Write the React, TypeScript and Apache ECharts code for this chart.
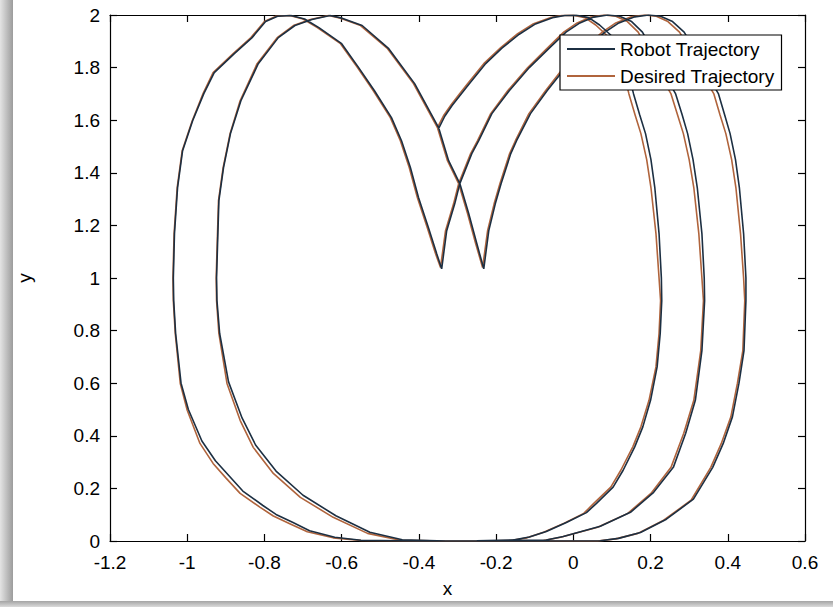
import React, { useEffect, useRef } from "react";
import * as echarts from "echarts";

// ---- Data (x, y pairs in path order) ----
const xTicks = { min: -1.2, max: 0.6, step: 0.2 };
const yTicks = { min: 0, max: 2, step: 0.2 };
const seriesNames = ["Robot Trajectory", "Desired Trajectory"];

const desiredLobe1: number[][] = [
  [-0.352, 1.572], [-0.335, 1.62], [-0.316, 1.66], [-0.295, 1.7], [-0.274, 1.739], [-0.232, 1.815], [-0.188, 1.876],
  [-0.144, 1.929], [-0.103, 1.967], [-0.06, 1.99], [-0.03, 1.998], [0.0, 1.999], [0.03, 1.99], [0.058, 1.962],
  [0.085, 1.925], [0.11, 1.85], [0.13, 1.78], [0.144, 1.7], [0.16, 1.62], [0.175, 1.549], [0.19, 1.45],
  [0.201, 1.344], [0.214, 1.169], [0.222, 1.0], [0.226, 0.914], [0.222, 0.789], [0.214, 0.662], [0.196, 0.535],
  [0.175, 0.434], [0.154, 0.358], [0.123, 0.269], [0.097, 0.205], [0.053, 0.143], [0.027, 0.105], [-0.025, 0.067],
  [-0.077, 0.033], [-0.12, 0.012], [-0.162, 0.002], [-0.25, 0], [-0.4, 0], [-0.55, 0.002], [-0.622, 0.012],
  [-0.689, 0.035], [-0.733, 0.065], [-0.777, 0.095], [-0.811, 0.128], [-0.863, 0.181], [-0.9, 0.24], [-0.933, 0.295],
  [-0.967, 0.371], [-1.0, 0.497], [-1.018, 0.599], [-1.031, 0.789], [-1.036, 0.914], [-1.037, 1.0], [-1.034, 1.169],
  [-1.026, 1.344], [-1.013, 1.484], [-0.987, 1.598], [-0.959, 1.701], [-0.933, 1.781], [-0.881, 1.853], [-0.835, 1.914],
  [-0.8, 1.975], [-0.77, 1.995], [-0.735, 1.998], [-0.7, 1.985], [-0.663, 1.952], [-0.603, 1.891], [-0.559, 1.8], [-0.518, 1.712],
  [-0.474, 1.61], [-0.448, 1.522], [-0.425, 1.42], [-0.404, 1.306], [-0.378, 1.19], [-0.357, 1.093], [-0.344, 1.04],
];
const desiredLobe2: number[][] = [
  [-0.331, 1.18], [-0.31, 1.283], [-0.297, 1.359], [-0.266, 1.473], [-0.248, 1.522], [-0.214, 1.625], [-0.17, 1.712],
  [-0.118, 1.8], [-0.066, 1.876], [-0.025, 1.935], [0.01, 1.97], [0.045, 1.992], [0.08, 2.0], [0.11, 1.995],
  [0.14, 1.975], [0.168, 1.935], [0.195, 1.862], [0.22, 1.785], [0.253, 1.7], [0.27, 1.62], [0.285, 1.549],
  [0.3, 1.45], [0.312, 1.344], [0.325, 1.169], [0.333, 1.0], [0.337, 0.914], [0.33, 0.724], [0.312, 0.535],
  [0.286, 0.41], [0.253, 0.28], [0.201, 0.181], [0.141, 0.105], [0.063, 0.052], [-0.033, 0.014], [-0.077, 0.002],
  [-0.2, 0], [-0.33, 0], [-0.448, 0.003], [-0.533, 0.029], [-0.622, 0.09], [-0.707, 0.166], [-0.777, 0.257],
  [-0.829, 0.356], [-0.863, 0.459], [-0.897, 0.599], [-0.918, 0.789], [-0.924, 0.914], [-0.925, 1.0], [-0.922, 1.15],
  [-0.919, 1.294], [-0.907, 1.42], [-0.889, 1.549], [-0.863, 1.674], [-0.819, 1.815], [-0.767, 1.914], [-0.725, 1.96],
  [-0.681, 1.983], [-0.634, 1.998], [-0.603, 1.988], [-0.551, 1.96], [-0.481, 1.872], [-0.414, 1.739], [-0.352, 1.572],
  [-0.326, 1.446], [-0.297, 1.359], [-0.274, 1.245], [-0.253, 1.131], [-0.235, 1.04],
];
const desiredLobe3: number[][] = [
  [-0.222, 1.18], [-0.205, 1.283], [-0.19, 1.359], [-0.165, 1.473], [-0.15, 1.522], [-0.115, 1.625], [-0.072, 1.712],
  [-0.025, 1.8], [0.03, 1.876], [0.075, 1.935], [0.11, 1.97], [0.15, 1.993], [0.185, 2.0], [0.215, 1.995],
  [0.245, 1.975], [0.275, 1.935], [0.305, 1.862], [0.33, 1.785], [0.364, 1.7], [0.38, 1.62], [0.395, 1.549],
  [0.41, 1.45], [0.421, 1.344], [0.433, 1.169], [0.441, 1.0], [0.444, 0.914], [0.439, 0.724], [0.425, 0.6],
  [0.408, 0.472], [0.383, 0.37], [0.356, 0.28], [0.305, 0.155], [0.234, 0.079], [0.167, 0.029], [0.11, 0.008],
  [0.063, 0.0], [-0.1, 0], [-0.3, 0],
];

const robotLobe1: number[][] = [
  [-0.35, 1.565], [-0.333, 1.615], [-0.314, 1.656], [-0.292, 1.697], [-0.271, 1.736], [-0.229, 1.812], [-0.185, 1.874],
  [-0.14, 1.927], [-0.098, 1.966], [-0.054, 1.99], [-0.022, 1.998], [0.008, 1.999], [0.04, 1.99], [0.068, 1.962],
  [0.096, 1.925], [0.122, 1.85], [0.142, 1.78], [0.156, 1.7], [0.172, 1.62], [0.187, 1.549], [0.201, 1.45],
  [0.211, 1.344], [0.222, 1.169], [0.228, 1.0], [0.229, 0.914], [0.225, 0.789], [0.217, 0.662], [0.2, 0.535],
  [0.18, 0.434], [0.159, 0.358], [0.129, 0.269], [0.103, 0.205], [0.06, 0.143], [0.034, 0.108], [-0.018, 0.07],
  [-0.07, 0.036], [-0.114, 0.015], [-0.156, 0.004], [-0.25, 0.001], [-0.4, 0], [-0.55, 0.003], [-0.618, 0.014],
  [-0.683, 0.039], [-0.726, 0.07], [-0.77, 0.101], [-0.804, 0.135], [-0.856, 0.19], [-0.893, 0.25], [-0.927, 0.305],
  [-0.962, 0.38], [-0.997, 0.5], [-1.016, 0.6], [-1.03, 0.789], [-1.035, 0.914], [-1.036, 1.0], [-1.033, 1.169],
  [-1.025, 1.344], [-1.012, 1.484], [-0.986, 1.598], [-0.957, 1.701], [-0.93, 1.781], [-0.878, 1.853], [-0.832, 1.914],
  [-0.797, 1.975], [-0.766, 1.995], [-0.731, 1.998], [-0.696, 1.985], [-0.659, 1.952], [-0.6, 1.891], [-0.556, 1.8], [-0.515, 1.712],
  [-0.471, 1.61], [-0.445, 1.522], [-0.422, 1.42], [-0.401, 1.306], [-0.375, 1.19], [-0.354, 1.093], [-0.341, 1.035],
];
const robotLobe2: number[][] = [
  [-0.328, 1.18], [-0.307, 1.283], [-0.294, 1.359], [-0.263, 1.473], [-0.245, 1.522], [-0.211, 1.625], [-0.166, 1.712],
  [-0.114, 1.8], [-0.061, 1.876], [-0.019, 1.935], [0.017, 1.97], [0.053, 1.992], [0.089, 2.0], [0.12, 1.995],
  [0.151, 1.975], [0.179, 1.935], [0.207, 1.862], [0.232, 1.785], [0.265, 1.7], [0.282, 1.62], [0.296, 1.549],
  [0.31, 1.45], [0.321, 1.344], [0.333, 1.169], [0.339, 1.0], [0.34, 0.914], [0.333, 0.724], [0.316, 0.535],
  [0.291, 0.41], [0.259, 0.28], [0.208, 0.185], [0.148, 0.109], [0.07, 0.056], [-0.026, 0.017], [-0.07, 0.004],
  [-0.2, 0.001], [-0.33, 0], [-0.443, 0.005], [-0.527, 0.033], [-0.615, 0.096], [-0.7, 0.174], [-0.77, 0.266],
  [-0.823, 0.365], [-0.858, 0.468], [-0.893, 0.605], [-0.916, 0.789], [-0.923, 0.914], [-0.924, 1.0], [-0.921, 1.15],
  [-0.918, 1.294], [-0.906, 1.42], [-0.888, 1.549], [-0.861, 1.674], [-0.816, 1.815], [-0.764, 1.914], [-0.721, 1.96],
  [-0.677, 1.983], [-0.63, 1.998], [-0.599, 1.988], [-0.547, 1.96], [-0.478, 1.872], [-0.411, 1.739], [-0.349, 1.572],
  [-0.323, 1.446], [-0.294, 1.359], [-0.271, 1.245], [-0.25, 1.131], [-0.232, 1.035],
];
const robotLobe3: number[][] = [
  [-0.219, 1.18], [-0.202, 1.283], [-0.187, 1.359], [-0.162, 1.473], [-0.147, 1.522], [-0.111, 1.625], [-0.068, 1.712],
  [-0.02, 1.8], [0.036, 1.876], [0.082, 1.935], [0.118, 1.97], [0.159, 1.993], [0.195, 2.0], [0.226, 1.995],
  [0.257, 1.975], [0.287, 1.935], [0.317, 1.862], [0.342, 1.785], [0.376, 1.7], [0.392, 1.62], [0.406, 1.549],
  [0.42, 1.45], [0.43, 1.344], [0.441, 1.169], [0.447, 1.0], [0.447, 0.914], [0.442, 0.724], [0.429, 0.6],
  [0.412, 0.472], [0.388, 0.37], [0.361, 0.28], [0.311, 0.159], [0.241, 0.083], [0.174, 0.032], [0.117, 0.01],
  [0.07, 0.001], [-0.1, 0], [-0.3, 0],
];

const ROBOT_COLOR = "#1c2f42";
const DESIRED_COLOR = "#b0643c";
const FONT = "'Liberation Sans', Arial, Helvetica, sans-serif";

const fmt = (v: number) => String(parseFloat(v.toFixed(1)));

export default function App() {
  const ref = useRef<HTMLDivElement>(null);
  useEffect(() => {
    if (!ref.current) return;
    const chart = echarts.init(ref.current, null, { renderer: "svg" });
    const desired = [...desiredLobe1, ...desiredLobe2, ...desiredLobe3];
    const robot = [...robotLobe1, ...robotLobe2, ...robotLobe3];
    const axisLine = { show: true, onZero: false, lineStyle: { color: "#000", width: 1.2 } };
    const tick = { show: true, inside: true, length: 7, lineStyle: { color: "#000", width: 1.2 } };
    const label = { color: "#000", fontSize: 19, fontFamily: FONT };
    chart.setOption({
      animation: false,
      backgroundColor: "#ffffff",
      grid: { left: 110, right: 28, top: 15, bottom: 66, containLabel: false },
      xAxis: [
        {
          type: "value", min: xTicks.min, max: xTicks.max, interval: xTicks.step,
          position: "bottom", axisLine, axisTick: tick, splitLine: { show: false },
          axisLabel: { ...label, margin: 12, formatter: fmt },
          name: "x", nameLocation: "middle", nameGap: 38,
          nameTextStyle: { color: "#000", fontSize: 19, fontFamily: FONT, padding: [0, 20, 0, 0] },
        },
        {
          type: "value", min: xTicks.min, max: xTicks.max, interval: xTicks.step,
          position: "top", axisLine, axisTick: tick, axisLabel: { show: false }, splitLine: { show: false },
        },
      ],
      yAxis: [
        {
          type: "value", min: yTicks.min, max: yTicks.max, interval: yTicks.step,
          position: "left", axisLine, axisTick: tick, splitLine: { show: false },
          axisLabel: { ...label, margin: 10, formatter: fmt },
          name: "y", nameLocation: "middle", nameGap: 76, nameRotate: 90,
          nameTextStyle: { color: "#000", fontSize: 19, fontFamily: FONT },
        },
        {
          type: "value", min: yTicks.min, max: yTicks.max, interval: yTicks.step,
          position: "right", axisLine, axisTick: tick, axisLabel: { show: false }, splitLine: { show: false },
        },
      ],
      legend: {
        data: seriesNames,
        orient: "vertical",
        left: 560,
        top: 35,
        padding: [4, 7, 4, 7],
        itemGap: 7,
        itemWidth: 48,
        itemHeight: 2,
        icon: "rect",
        backgroundColor: "#fff",
        borderColor: "#000",
        borderWidth: 1.2,
        textStyle: { color: "#000", fontSize: 19, fontFamily: FONT, lineHeight: 20 },
      },
      graphic: [
        {
          type: "rect", left: 0, top: 0, z: -10, silent: true,
          shape: { width: 13, height: 607 },
          style: {
            fill: new echarts.graphic.LinearGradient(0, 0, 1, 0, [
              { offset: 0, color: "#e4e4e4" },
              { offset: 1, color: "#9c9c9c" },
            ]),
          },
        },
        {
          type: "rect", left: 0, top: 601, z: -10, silent: true,
          shape: { width: 833, height: 6 },
          style: {
            fill: new echarts.graphic.LinearGradient(0, 0, 0, 1, [
              { offset: 0, color: "#a4a4a4" },
              { offset: 1, color: "#dadada" },
            ]),
          },
        },
      ],
      series: [
        {
          name: seriesNames[1], type: "line", data: desired, showSymbol: false, symbol: "none",
          lineStyle: { color: DESIRED_COLOR, width: 1.6 }, itemStyle: { color: DESIRED_COLOR }, clip: true, z: 2,
        },
        {
          name: seriesNames[0], type: "line", data: robot, showSymbol: false, symbol: "none",
          lineStyle: { color: ROBOT_COLOR, width: 1.6 }, itemStyle: { color: ROBOT_COLOR }, clip: true, z: 3,
        },
      ],
    });
    return () => chart.dispose();
  }, []);
  return (
    <div
      ref={ref}
      style={{ position: "fixed", left: 0, top: 0, width: 833, height: 607, background: "#fff" }}
    />
  );
}
